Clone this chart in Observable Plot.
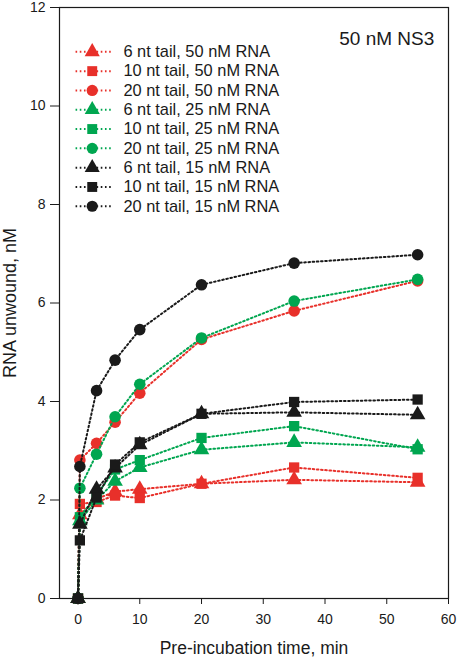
<!DOCTYPE html>
<html>
<head>
<meta charset="utf-8">
<script src="https://cdn.jsdelivr.net/npm/d3@7"></script>
<script src="https://cdn.jsdelivr.net/npm/@observablehq/plot@0.6"></script>
<style>
  html, body { margin: 0; padding: 0; background: #fff; }
</style>
</head>
<body>
<div id="chart"></div>
<script>
// Pre-incubation times (min)
const times = [0, 0.3, 3, 6, 10, 20, 35, 55];

// Series labels, colours, symbols
const seriesLabels = [
  "6 nt tail, 50 nM RNA", "10 nt tail, 50 nM RNA", "20 nt tail, 50 nM RNA",
  "6 nt tail, 25 nM RNA", "10 nt tail, 25 nM RNA", "20 nt tail, 25 nM RNA",
  "6 nt tail, 15 nM RNA", "10 nt tail, 15 nM RNA", "20 nt tail, 15 nM RNA"
];
const seriesColors = ["#e8302a", "#e8302a", "#e8302a", "#00a650", "#00a650", "#00a650", "#1a1a1a", "#1a1a1a", "#1a1a1a"];
const seriesSymbols = ["triangle", "square", "circle", "triangle", "square", "circle", "triangle", "square", "circle"];

// RNA unwound (nM)
const tail6_rna50  = [0, 1.70, 2.02, 2.17, 2.22, 2.33, 2.41, 2.36];
const tail10_rna50 = [0, 1.92, 1.96, 2.09, 2.04, 2.33, 2.66, 2.45];
const tail20_rna50 = [0, 2.81, 3.15, 3.58, 4.17, 5.26, 5.84, 6.45];
const tail6_rna25  = [0, 1.58, 2.00, 2.38, 2.66, 3.02, 3.17, 3.07];
const tail10_rna25 = [0, 1.65, 2.10, 2.62, 2.81, 3.26, 3.50, 3.03];
const tail20_rna25 = [0, 2.24, 2.93, 3.69, 4.35, 5.29, 6.04, 6.48];
const tail6_rna15  = [0, 1.51, 2.22, 2.65, 3.12, 3.75, 3.78, 3.73];
const tail10_rna15 = [0, 1.18, 2.05, 2.72, 3.17, 3.75, 3.99, 4.04];
const tail20_rna15 = [0, 2.68, 4.22, 4.84, 5.46, 6.37, 6.81, 6.98];

const seriesValues = [tail6_rna50, tail10_rna50, tail20_rna50, tail6_rna25, tail10_rna25, tail20_rna25, tail6_rna15, tail10_rna15, tail20_rna15];

const xTicks = [0, 10, 20, 30, 40, 50, 60];
const yTicks = [0, 2, 4, 6, 8, 10, 12];
const titleText = "50 nM NS3";
const xLabel = "Pre-incubation time, min";
const yLabel = "RNA unwound, nM";

const dash = "1.6,2.6";
const marks = [];

seriesValues.forEach((vals, i) => {
  const rows = times.map((t, j) => ({t, v: vals[j]}));
  marks.push(Plot.line(rows, {x: "t", y: "v", stroke: seriesColors[i], strokeWidth: 2, strokeDasharray: dash}));
  marks.push(Plot.dot(rows, {x: "t", y: "v", symbol: seriesSymbols[i], fill: seriesColors[i], stroke: "none", r: 5.8}));
});

// Legend (rows placed in data space by index)
const legendRows = seriesLabels.map((label, i) => ({label, i, y: 11.1 - 0.392 * i}));
legendRows.forEach((d) => {
  marks.push(Plot.link([d], {x1: -0.4, x2: 5.3, y1: "y", y2: "y", stroke: seriesColors[d.i], strokeWidth: 2, strokeDasharray: dash}));
  marks.push(Plot.dot([d], {x: 2.3, y: "y", symbol: seriesSymbols[d.i], fill: seriesColors[d.i], stroke: "none", r: 5.6}));
});
marks.push(Plot.text(legendRows, {x: 7.35, y: "y", text: "label", textAnchor: "start", fontSize: 16.4, fill: "#1a1a1a"}));

marks.push(Plot.text([titleText], {x: 57.7, y: 11.36, text: d => d, textAnchor: "end", fontSize: 19, fill: "#1a1a1a"}));

marks.push(Plot.frame({stroke: "#1a1a1a", strokeWidth: 1.2}));
marks.push(Plot.axisX({ticks: xTicks, tickSize: 6, tickPadding: 10, label: null, fontSize: 14}));
marks.push(Plot.axisY({ticks: yTicks, tickSize: 9, tickPadding: 5, label: null, fontSize: 14}));
marks.push(Plot.text([xLabel], {frameAnchor: "bottom", dy: 50, text: d => d, fontSize: 17.5, lineAnchor: "middle", fill: "#1a1a1a"}));
marks.push(Plot.text([yLabel], {frameAnchor: "left", dx: -49, dy: 0, rotate: -90, textAnchor: "middle", text: d => d, fontSize: 18, lineAnchor: "middle", fill: "#1a1a1a"}));

const chart = Plot.plot({
  width: 458,
  height: 660,
  marginLeft: 59,
  marginRight: 10,
  marginTop: 7,
  marginBottom: 62,
  x: {domain: [-3, 60]},
  y: {domain: [0, 12]},
  style: {fontFamily: "'Liberation Sans', Arial, sans-serif", fontSize: "14px", color: "#1a1a1a", background: "#fff"},
  marks
});
document.getElementById("chart").appendChild(chart);
</script>
</body>
</html>
